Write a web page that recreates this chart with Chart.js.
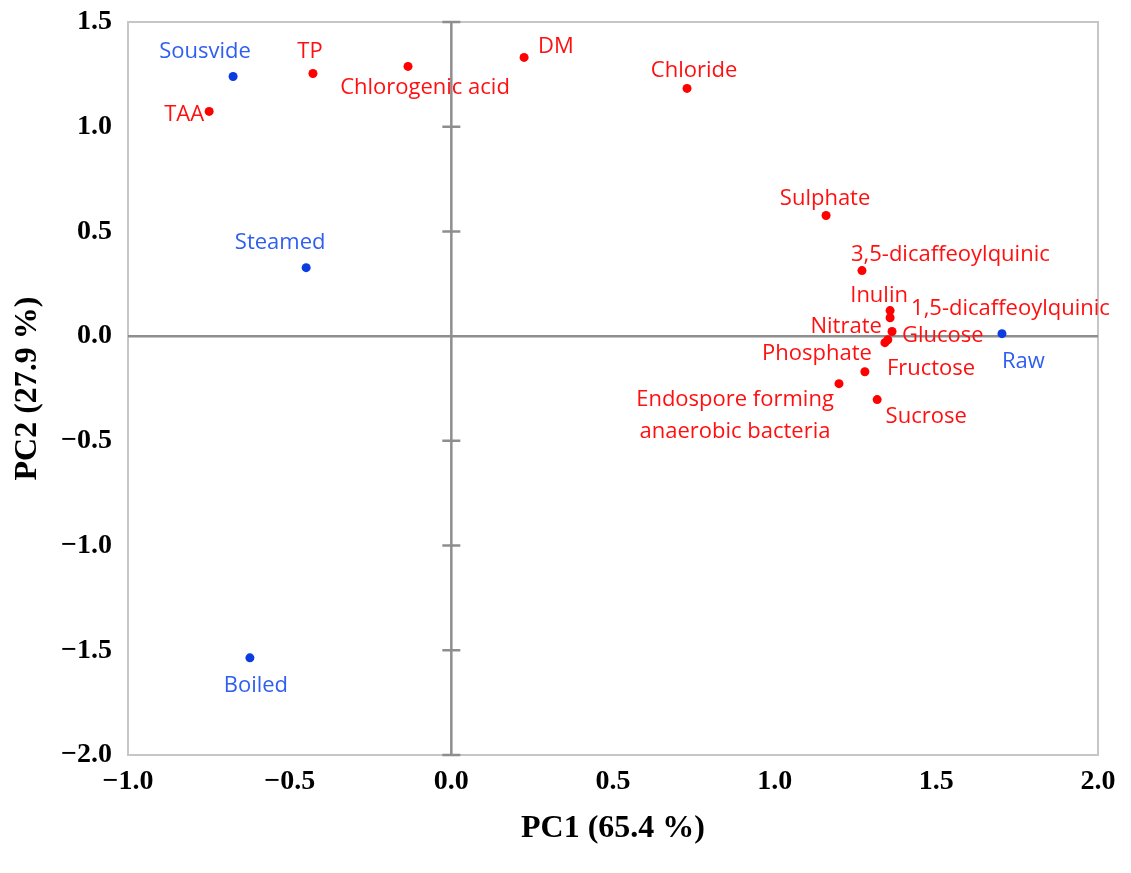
<!DOCTYPE html>
<html>
<head>
<meta charset="utf-8">
<title>PCA biplot</title>
<script src="https://cdn.jsdelivr.net/npm/chart.js@4/dist/chart.umd.min.js"></script>
<style>
  html, body { margin: 0; padding: 0; background: #fff; }
  canvas { display: block; }
</style>
</head>
<body>
<canvas id="pca" width="1131" height="873"></canvas>
<script>
// treatments (scores)
const treatmentNames = ['Sousvide', 'Steamed', 'Boiled', 'Raw'];
const treatmentPC1 = [-0.675, -0.449, -0.623, 1.703];
const treatmentPC2 = [1.240, 0.327, -1.536, 0.012];

// measured variables (loadings)
const variableNames = [
  'TP', 'TAA', 'Chlorogenic acid', 'DM', 'Chloride', 'Sulphate',
  '3,5-dicaffeoylquinic', 'Inulin', '1,5-dicaffeoylquinic', 'Glucose',
  'Nitrate', 'Phosphate', 'Fructose', 'Endospore forming|anaerobic bacteria', 'Sucrose'
];
const variablePC1 = [-0.428, -0.749, -0.134, 0.225, 0.729, 1.159, 1.270, 1.357, 1.357, 1.363, 1.350, 1.341, 1.279, 1.199, 1.317];
const variablePC2 = [1.254, 1.073, 1.288, 1.331, 1.183, 0.576, 0.313, 0.122, 0.088, 0.022, -0.017, -0.031, -0.170, -0.227, -0.303];

const xTitle = 'PC1 (65.4 %)';
const yTitle = 'PC2 (27.9 %)';

// where each label sits relative to its point (pixels), kept apart from the data
const labelPlacement = {
  'Sousvide': { dx: -28, dy: -25, align: 'center' },
  'Steamed': { dx: -26, dy: -25, align: 'center' },
  'Boiled': { dx: 6, dy: 28, align: 'center' },
  'Raw': { dx: 0, dy: 28, align: 'left' },
  'TP': { dx: -3, dy: -22, align: 'center' },
  'TAA': { dx: -5, dy: 3, align: 'right' },
  'Chlorogenic acid': { dx: 17, dy: 21, align: 'center' },
  'DM': { dx: 14, dy: -11, align: 'left' },
  'Chloride': { dx: 7, dy: -18, align: 'center' },
  'Sulphate': { dx: -1, dy: -17, align: 'center' },
  '3,5-dicaffeoylquinic': { dx: -11, dy: -16, align: 'left' },
  'Inulin': { dx: -11, dy: -15, align: 'center' },
  '1,5-dicaffeoylquinic': { dx: 21, dy: -9, align: 'left' },
  'Glucose': { dx: 10, dy: 4, align: 'left' },
  'Nitrate': { dx: -6, dy: -13, align: 'right' },
  'Phosphate': { dx: -13, dy: 11, align: 'right' },
  'Fructose': { dx: 22, dy: -3, align: 'left' },
  'Endospore forming|anaerobic bacteria': { dx: -104, dy: 16, align: 'center' },
  'Sucrose': { dx: 49, dy: 17, align: 'center' }
};

const toPoints = (xs, ys) => xs.map((x, i) => ({ x: x, y: ys[i] }));
const fmt = v => (v < 0 ? '\u2212' : '') + Math.abs(v).toFixed(1);
const tickFont = { family: '"Liberation Serif", "Times New Roman", serif', size: 28, weight: 'bold' };
const titleFont = { family: '"Liberation Serif", "Times New Roman", serif', size: 32, weight: 'bold' };

// frame, zero axes and the small tick marks on the vertical zero axis
const framePlugin = {
  id: 'frame',
  beforeDatasetsDraw(chart) {
    const { ctx, chartArea: a, scales: { x, y } } = chart;
    const x0 = x.getPixelForValue(0);
    const y0 = y.getPixelForValue(0);
    ctx.save();
    ctx.strokeStyle = '#c6c6c6';
    ctx.lineWidth = 2;
    ctx.strokeRect(a.left, a.top, a.right - a.left, a.bottom - a.top);
    ctx.strokeStyle = '#8e8e8e';
    ctx.lineWidth = 2.5;
    ctx.beginPath();
    ctx.moveTo(a.left, y0); ctx.lineTo(a.right, y0);
    ctx.moveTo(x0, a.top); ctx.lineTo(x0, a.bottom);
    y.ticks.forEach(t => {
      const py = y.getPixelForValue(t.value);
      ctx.moveTo(x0 - 9, py); ctx.lineTo(x0 + 9, py);
    });
    ctx.stroke();
    ctx.restore();
  }
};

// point labels
const labelPlugin = {
  id: 'pointLabels',
  afterDatasetsDraw(chart) {
    const { ctx } = chart;
    ctx.save();
    ctx.font = '22px "Open Sans", sans-serif';
    ctx.textBaseline = 'middle';
    chart.data.datasets.forEach((ds, di) => {
      const meta = chart.getDatasetMeta(di);
      ctx.fillStyle = ds.labelColor;
      meta.data.forEach((pt, i) => {
        const name = ds.names[i];
        const p = labelPlacement[name] || { dx: 8, dy: -14, align: 'left' };
        ctx.textAlign = p.align;
        name.split('|').forEach((line, li) => {
          ctx.fillText(line, pt.x + p.dx, pt.y + p.dy + li * 32);
        });
      });
    });
    ctx.restore();
  }
};

new Chart(document.getElementById('pca'), {
  type: 'scatter',
  data: {
    datasets: [
      {
        label: 'Treatments',
        names: treatmentNames,
        labelColor: '#2f5ff0',
        data: toPoints(treatmentPC1, treatmentPC2),
        backgroundColor: '#0a3ce0',
        pointRadius: 4.5,
        pointBorderWidth: 0
      },
      {
        label: 'Variables',
        names: variableNames,
        labelColor: '#ff1010',
        data: toPoints(variablePC1, variablePC2),
        backgroundColor: '#ff0000',
        pointRadius: 4.5,
        pointBorderWidth: 0
      }
    ]
  },
  options: {
    responsive: false,
    devicePixelRatio: 1,
    animation: false,
    layout: { padding: { top: 22, right: 33, left: 0, bottom: 0 } },
    plugins: { legend: { display: false }, tooltip: { enabled: false } },
    scales: {
      x: {
        type: 'linear',
        min: -1, max: 2,
        grid: { display: false, drawTicks: false },
        border: { display: false },
        ticks: { stepSize: 0.5, color: '#000', font: tickFont, padding: 10, callback: fmt, maxRotation: 0 },
        title: { display: true, text: xTitle, color: '#000', font: titleFont, padding: { top: 0, bottom: 25 } },
        afterFit(s) { s.height = 118; s.paddingLeft = 0; s.paddingRight = 0; }
      },
      y: {
        type: 'linear',
        min: -2, max: 1.5,
        grid: { display: false, drawTicks: false },
        border: { display: false },
        ticks: { stepSize: 0.5, color: '#000', font: tickFont, padding: 16, callback: fmt },
        title: { display: true, text: yTitle, color: '#000', font: titleFont, padding: { top: 9, bottom: 0 } },
        afterFit(s) { s.width = 128; s.paddingTop = 0; s.paddingBottom = 0; }
      }
    }
  },
  plugins: [framePlugin, labelPlugin]
});
</script>
</body>
</html>
